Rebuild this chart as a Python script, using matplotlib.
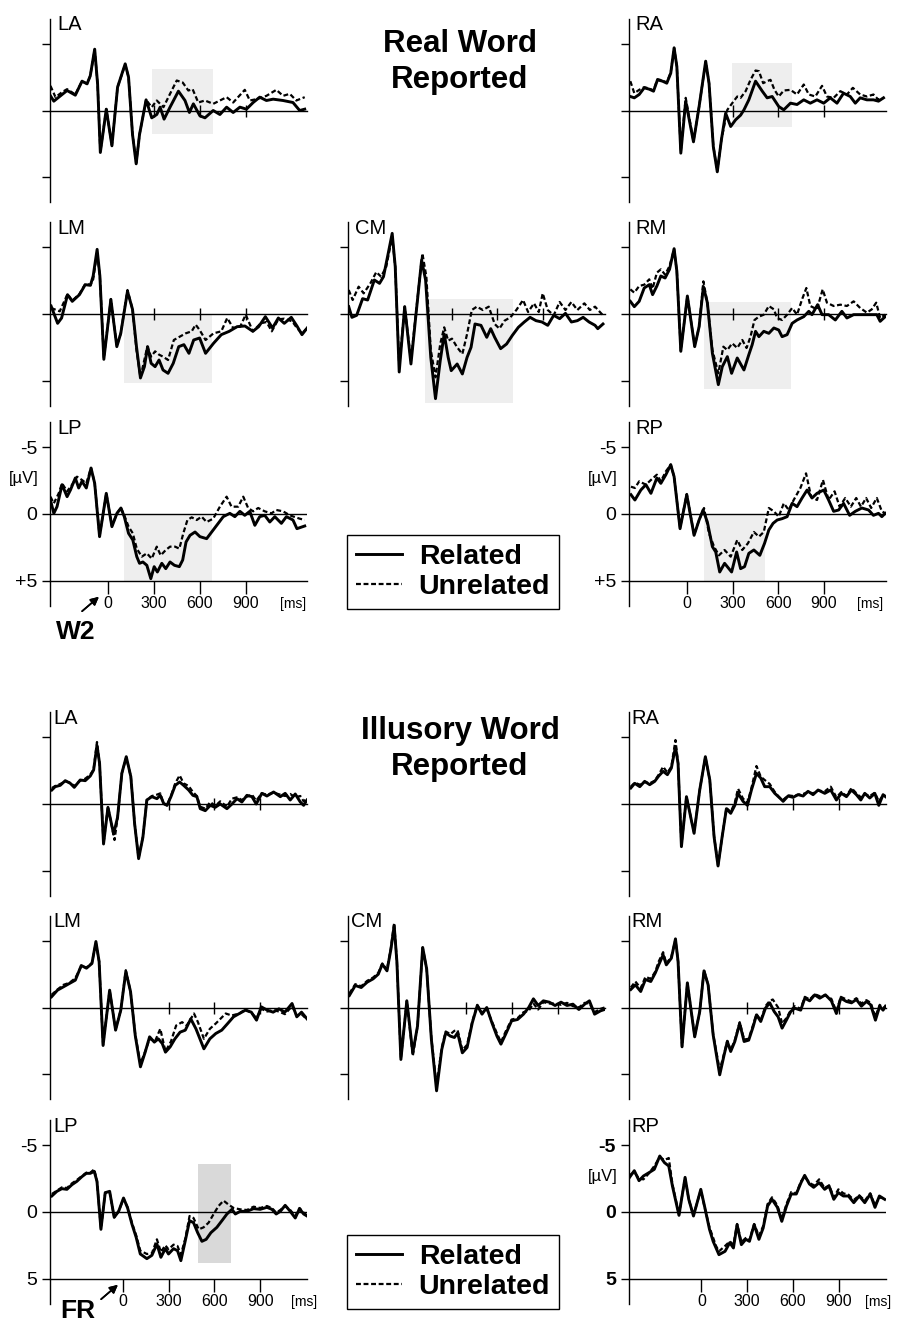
import matplotlib.pyplot as plt
from matplotlib.lines import Line2D
from matplotlib.transforms import blended_transform_factory

plt.rcParams['font.family'] = ['Liberation Sans', 'DejaVu Sans']

W, H = 899, 1323

# ---- ERP curves, (ms, µV), negative up. "Real Word Reported" ----
real_LA_rel = [(-379, -1.1), (-357, -0.7), (-270, -1.5), (-216, -1.15), (-172, -2.2), (-139, -2.0), (-118, -2.6),
               (-89, -4.6), (-70, -2.0), (-52, 3.15), (-13, -0.1), (24, 2.65), (61, -1.75), (111, -3.5), (133, -2.5),
               (159, 1.8), (183, 4.0), (205, 1.8), (248, -0.8), (285, 0.55), (318, 0.3), (340, -0.25), (366, 0.65),
               (405, -0.25), (460, -1.45), (503, -0.75), (532, 0.15), (558, -0.5), (601, 0.4), (634, 0.55), (688, 0.0),
               (732, 0.3), (776, -0.25), (819, 0.15), (863, -0.25), (906, -0.1), (950, -0.6), (993, -1.0),
               (1037, -0.75), (1081, -0.85), (1146, -0.75), (1211, -0.6), (1255, 0.0), (1288, -0.1)]
real_LA_unr = [(-379, -1.85), (-346, -1.0), (-300, -1.4), (-270, -1.6), (-216, -1.2), (-172, -2.2), (-139, -2.0),
               (-118, -2.6), (-89, -4.55), (-70, -2.0), (-52, 3.1), (-13, -0.1), (24, 2.6), (61, -1.75), (111, -3.45),
               (133, -2.5), (159, 1.75), (183, 3.95), (205, 1.8), (248, -0.8), (285, -0.25), (318, -0.75),
               (362, -0.25), (405, -1.25), (449, -2.25), (488, -2.1), (525, -1.5), (553, -1.6), (590, -0.6),
               (634, -0.75), (688, -0.5), (732, -0.75), (776, -1.0), (819, -0.6), (895, -1.55), (928, -0.75),
               (972, -0.85), (1037, -1.1), (1102, -1.55), (1146, -1.1), (1190, -1.25), (1233, -0.75), (1288, -1.0)]

real_RA_rel = [(-370, -1.05), (-344, -0.95), (-312, -1.2), (-279, -1.7), (-246, -1.6), (-218, -1.45), (-192, -2.3),
               (-159, -2.2), (-131, -2.05), (-105, -2.8), (-83, -4.7), (-65, -3.3), (-39, 3.2), (-7, -0.7), (44, 2.35),
               (81, -0.3), (124, -3.7), (146, -2.05), (174, 2.7), (200, 4.6), (227, 2.2), (255, 0.2), (288, 1.2),
               (320, 0.7), (353, 0.35), (375, -0.05), (407, -0.8), (451, -2.2), (495, -1.45), (527, -0.95),
               (560, -1.05), (603, -0.3), (636, -0.05), (680, -0.55), (723, -0.45), (767, -0.8), (810, -0.55),
               (854, -0.8), (898, -0.55), (941, -0.95), (985, -0.55), (1028, -1.3), (1072, -1.05), (1105, -0.55),
               (1137, -0.95), (1181, -0.8), (1224, -0.8), (1257, -0.7), (1290, -0.95)]
real_RA_unr = [(-370, -2.2), (-344, -1.3), (-312, -1.55), (-279, -1.75), (-246, -1.65), (-218, -1.5), (-192, -2.35),
               (-159, -2.25), (-131, -2.1), (-105, -2.85), (-83, -4.7), (-65, -3.3), (-39, 3.1), (-7, -0.95),
               (44, 2.3), (81, -0.3), (124, -3.65), (146, -2.05), (174, 2.65), (200, 4.55), (227, 2.2), (266, -0.05),
               (298, -0.55), (331, -1.05), (353, -0.95), (386, -1.45), (418, -2.3), (451, -3.0), (473, -2.95),
               (501, -2.05), (527, -2.2), (549, -2.3), (575, -1.55), (603, -1.05), (636, -1.5), (680, -1.55),
               (723, -1.2), (767, -1.95), (800, -1.2), (843, -1.05), (887, -1.85), (919, -1.05), (963, -0.95),
               (1007, -1.45), (1050, -1.2), (1089, -1.7), (1137, -1.2), (1181, -1.05), (1224, -1.2), (1257, -0.8),
               (1290, -0.95)]

real_LM_rel = [(-375, -0.6), (-332, 0.7), (-306, 0.3), (-267, -1.45), (-236, -0.95), (-189, -1.45), (-151, -2.2),
               (-117, -2.15), (-99, -2.85), (-73, -4.85), (-55, -2.85), (-29, 3.4), (17, -1.1), (56, 2.45), (82, 1.45),
               (126, -1.7), (159, -0.35), (185, 2.45), (211, 4.8), (237, 3.95), (258, 2.45), (281, 3.7), (307, 3.95),
               (333, 3.45), (359, 4.2), (392, 4.45), (426, 3.7), (462, 2.45), (496, 2.3), (529, 2.95), (560, 1.95),
               (599, 1.8), (638, 2.95), (690, 2.2), (741, 1.55), (793, 1.3), (845, 0.95), (896, 0.9), (948, 1.3),
               (986, 0.95), (1030, 0.2), (1077, 1.05), (1115, 0.3), (1154, 0.7), (1200, 0.25), (1237, 0.9),
               (1270, 1.55), (1304, 1.05)]
real_LM_unr = [(-375, -0.45), (-318, -0.2), (-267, -1.5), (-236, -1.0), (-189, -1.5), (-151, -2.25), (-117, -2.2),
               (-99, -2.6), (-73, -4.6), (-55, -2.85), (-29, 3.3), (17, -1.1), (56, 2.4), (82, 1.45), (126, -1.8),
               (159, -0.35), (185, 2.7), (211, 4.75), (256, 2.45), (281, 3.2), (307, 2.8), (333, 3.05), (359, 3.2),
               (392, 3.45), (430, 1.95), (469, 1.7), (508, 1.45), (547, 1.3), (573, 0.8), (599, 1.2), (638, 1.95),
               (690, 1.45), (741, 1.3), (780, 0.3), (819, 1.05), (865, 0.95), (901, 0.05), (948, 1.3), (999, 0.7),
               (1038, 0.6), (1072, 1.3), (1115, 0.4), (1154, 0.35), (1206, 0.55), (1237, 1.05), (1270, 1.45),
               (1304, 1.05)]

real_CM_rel = [(-374, -0.55), (-353, 0.25), (-322, 0.1), (-283, -1.15), (-250, -1.05), (-206, -2.55), (-172, -2.3),
               (-146, -2.8), (-115, -4.55), (-89, -6.05), (-69, -3.55), (-43, 4.35), (-7, -0.55), (34, 3.75),
               (65, 0.25), (104, -4.05), (130, -2.55), (164, 3.25), (195, 6.35), (226, 3.5), (252, 1.5), (278, 3.25),
               (298, 4.25), (337, 3.75), (371, 4.5), (402, 3.25), (428, 2.5), (454, 0.75), (493, 0.85), (531, 1.75),
               (557, 1.1), (583, 1.75), (622, 2.6), (661, 2.25), (699, 1.6), (738, 1.0), (777, 0.6), (815, 0.25),
               (854, 0.5), (893, 0.6), (931, 0.85), (970, 0.1), (1009, 0.35), (1047, -0.05), (1086, 0.6),
               (1125, 0.5), (1163, 0.25), (1202, 0.6), (1241, 0.85), (1259, 1.1), (1293, 0.75)]
real_CM_unr = [(-374, -1.8), (-348, -1.05), (-309, -2.05), (-276, -1.55), (-232, -2.3), (-193, -3.15), (-162, -2.8),
               (-128, -3.55), (-89, -5.8), (-69, -3.55), (-43, 3.95), (-7, -0.55), (34, 3.5), (65, 0.1),
               (109, -4.55), (135, -2.8), (164, 2.7), (195, 4.75), (226, 2.25), (252, 1.0), (278, 2.0), (303, 1.85),
               (337, 2.5), (371, 3.0), (402, 1.5), (433, -0.3), (466, -0.55), (505, -0.3), (544, -0.55), (583, 0.75),
               (614, 1.1), (648, 0.5), (686, 0.25), (725, -0.3), (769, -1.05), (802, -0.15), (841, -0.8),
               (872, -0.15), (898, -1.55), (931, -0.3), (970, 0.1), (1009, -0.9), (1047, -0.3), (1086, -0.9),
               (1125, -0.3), (1171, -0.8), (1207, -0.3), (1241, -0.55), (1293, 0.1)]

real_RM_rel = [(-370, -0.95), (-344, -0.55), (-312, -0.95), (-279, -1.95), (-246, -2.2), (-224, -1.45), (-196, -2.1),
               (-170, -2.85), (-142, -2.7), (-113, -3.35), (-83, -4.9), (-65, -3.2), (-39, 2.8), (4, -1.35),
               (52, 2.45), (81, 0.95), (109, -2.05), (135, -0.85), (168, 2.95), (207, 5.3), (233, 3.95), (266, 3.2),
               (294, 4.45), (331, 3.3), (375, 4.2), (407, 3.05), (429, 2.3), (451, 1.3), (473, 1.7), (505, 1.3),
               (538, 1.45), (571, 1.05), (603, 1.2), (625, 1.7), (658, 1.55), (691, 0.7), (723, 0.45), (767, 0.2),
               (800, -0.2), (821, 0.05), (858, -0.7), (887, 0.05), (930, 0.05), (974, 0.45), (1017, -0.2),
               (1050, 0.3), (1094, 0.05), (1137, 0.05), (1203, 0.05), (1246, 0.05), (1268, 0.55), (1301, 0.2)]
real_RM_unr = [(-370, -1.85), (-344, -1.6), (-312, -2.1), (-279, -2.2), (-246, -2.6), (-224, -1.9), (-196, -3.1),
               (-170, -3.35), (-142, -2.95), (-113, -3.6), (-83, -4.85), (-65, -3.2), (-39, 2.75), (4, -1.35),
               (52, 2.4), (81, 0.95), (109, -2.45), (135, -0.85), (168, 2.7), (207, 4.45), (240, 2.45), (266, 2.7),
               (298, 2.2), (331, 2.55), (364, 1.95), (392, 2.55), (418, 1.7), (444, 0.45), (473, 0.2), (505, 0.05),
               (538, -0.6), (571, -0.35), (592, 0.3), (625, 0.45), (658, 0.05), (691, -0.45), (723, 0.05),
               (756, -1.1), (784, -1.95), (810, -0.6), (854, -0.35), (891, -1.85), (919, -0.85), (963, -0.6),
               (1007, -0.7), (1050, -0.6), (1094, -0.95), (1137, -0.45), (1181, -0.1), (1213, -0.35), (1242, -0.85),
               (1268, 0.3), (1301, 0.05)]

real_LP_rel = [(-379, -1.05), (-357, -0.05), (-336, -0.55), (-303, -2.2), (-270, -1.3), (-248, -1.8), (-216, -2.7),
               (-194, -1.95), (-172, -2.45), (-144, -1.95), (-113, -3.45), (-89, -2.3), (-57, 1.7), (-13, -1.55),
               (24, 0.95), (57, -0.05), (83, -0.45), (105, 0.2), (133, 1.45), (161, 1.95), (187, 3.2), (205, 3.7),
               (227, 3.6), (253, 3.85), (279, 4.85), (301, 3.95), (322, 4.35), (351, 3.7), (377, 4.1), (405, 3.6),
               (434, 3.85), (466, 3.95), (488, 3.45), (510, 2.1), (536, 1.6), (569, 1.35), (601, 1.7), (645, 1.85),
               (688, 1.2), (721, 0.7), (754, 0.2), (797, -0.05), (830, 0.2), (863, -0.2), (895, 0.1), (928, -0.2),
               (961, 0.85), (993, 0.2), (1026, 0.1), (1059, 0.6), (1092, 0.2), (1135, 0.7), (1168, 0.2), (1211, 0.45),
               (1237, 1.1), (1288, 0.9)]
real_LP_unr = [(-379, -1.3), (-357, -0.8), (-325, -1.55), (-303, -2.3), (-270, -1.7), (-237, -2.2), (-205, -2.8),
               (-172, -2.55), (-144, -2.3), (-113, -3.45), (-89, -2.3), (-57, 1.65), (-13, -1.55), (24, 0.9),
               (57, -0.05), (83, -0.45), (105, 0.1), (133, 0.95), (161, 1.45), (187, 2.6), (220, 3.2), (253, 2.95),
               (285, 3.35), (318, 2.45), (344, 3.1), (377, 2.7), (405, 2.45), (438, 2.45), (466, 2.6), (492, 1.45),
               (519, 0.45), (547, 0.25), (580, 0.45), (612, 0.2), (645, 0.6), (688, 0.35), (732, -0.55), (776, -1.3),
               (808, -0.55), (852, -0.55), (885, -1.3), (917, -0.45), (950, -0.2), (983, -0.45), (1026, -0.2),
               (1070, -0.05), (1102, -0.3), (1146, -0.2), (1190, 0.1), (1255, 0.35), (1288, 0.45)]

real_RP_rel = [(-366, -1.45), (-340, -1.05), (-301, -1.8), (-268, -2.2), (-235, -1.55), (-196, -2.7), (-170, -2.3),
               (-137, -2.95), (-105, -3.7), (-83, -2.8), (-44, 1.1), (0, -1.45), (48, 1.6), (81, 0.45), (107, -0.3),
               (135, 0.6), (168, 2.45), (190, 2.85), (216, 4.35), (248, 3.7), (294, 4.35), (327, 2.85), (353, 4.1),
               (379, 3.95), (407, 2.95), (440, 2.7), (479, 3.1), (510, 2.2), (538, 1.2), (566, 0.7), (593, 0.45),
               (625, 0.35), (658, 0.2), (691, -0.8), (723, -0.55), (756, -1.2), (789, -1.8), (821, -1.2),
               (854, -1.55), (898, -1.8), (930, -1.05), (963, -0.2), (996, -0.3), (1028, -0.8), (1068, 0.1),
               (1105, -0.2), (1148, -0.45), (1192, -0.3), (1224, 0.1), (1257, -0.05), (1279, 0.2), (1301, -0.05)]
real_RP_unr = [(-366, -2.05), (-340, -1.95), (-312, -2.45), (-268, -2.2), (-235, -2.55), (-196, -2.95),
               (-170, -2.45), (-137, -3.2), (-105, -3.7), (-83, -2.8), (-44, 1.05), (0, -1.5), (48, 1.55), (81, 0.45),
               (113, -0.45), (146, 1.45), (179, 2.45), (211, 3.1), (248, 2.7), (288, 3.2), (331, 1.95), (364, 2.7),
               (401, 2.2), (440, 1.35), (473, 1.7), (505, 1.35), (538, -0.45), (571, -0.2), (603, 0.2), (636, -0.8),
               (669, -0.3), (701, -1.05), (745, -1.95), (782, -3.05), (815, -1.3), (854, -1.05), (893, -2.55),
               (930, -1.05), (969, -1.7), (1002, -0.55), (1039, -1.2), (1076, -0.55), (1111, -1.2), (1142, -0.55),
               (1176, -1.2), (1209, -0.45), (1246, -1.2), (1279, -0.2), (1301, -0.05)]

# ---- "Illusory Word Reported" ----
ill_LA_rel = [(-466, -1.05), (-444, -1.3), (-411, -1.4), (-378, -1.75), (-345, -1.55), (-319, -1.25), (-280, -1.8),
              (-247, -1.75), (-214, -2.1), (-192, -2.55), (-170, -4.4), (-153, -3.05), (-127, 3.0), (-98, 0.25),
              (-61, 2.25), (-35, 1.0), (-7, -2.3), (22, -3.55), (52, -2.05), (77, 1.5), (103, 4.1), (131, 2.5),
              (157, -0.3), (190, -0.55), (223, -0.4), (245, -0.65), (267, -0.05), (289, 0.1), (315, -0.55),
              (343, -1.4), (372, -1.65), (398, -1.4), (431, -1.05), (459, -0.65), (485, -0.55), (507, 0.35),
              (540, 0.5), (573, 0.1), (605, 0.25), (638, 0.0), (682, 0.35), (715, 0.0), (748, -0.4), (780, -0.15),
              (813, -0.65), (846, -0.55), (874, 0.0), (911, -0.8), (944, -0.6), (988, -0.9), (1032, -0.55),
              (1064, -0.8), (1097, -0.3), (1130, -0.75), (1163, -0.15), (1185, 0.1), (1207, -0.3)]
ill_LA_unr = [(-466, -1.2), (-444, -1.35), (-411, -1.5), (-378, -1.7), (-345, -1.6), (-319, -1.35), (-280, -1.75),
              (-247, -1.9), (-214, -2.2), (-192, -2.6), (-170, -4.65), (-153, -3.05), (-127, 2.95), (-98, 0.2),
              (-55, 2.7), (-35, 1.05), (-7, -2.3), (22, -3.5), (52, -2.05), (77, 1.45), (103, 4.05), (131, 2.45),
              (157, -0.3), (190, -0.6), (223, -0.7), (245, -0.8), (267, 0.0), (289, 0.1), (315, -0.6), (343, -1.55),
              (372, -2.15), (398, -1.55), (431, -1.35), (459, -0.9), (485, -0.6), (507, 0.2), (540, 0.35),
              (573, -0.15), (605, 0.15), (638, -0.2), (682, 0.2), (715, -0.4), (748, -0.5), (780, -0.3),
              (813, -0.55), (846, -0.7), (874, -0.25), (911, -0.8), (944, -0.7), (988, -0.85), (1032, -0.7),
              (1064, -0.6), (1097, -0.75), (1130, -0.5), (1163, -0.6), (1185, -0.2), (1207, -0.4)]

ill_RA_rel = [(-463, -1.2), (-437, -1.55), (-404, -1.3), (-372, -1.7), (-339, -1.45), (-306, -1.7), (-280, -2.1),
              (-251, -2.45), (-223, -2.2), (-197, -2.7), (-170, -4.3), (-153, -3.05), (-131, 3.2), (-98, -0.55),
              (-48, 2.2), (-11, -1.05), (26, -3.55), (55, -1.8), (83, 2.45), (109, 4.65), (136, 2.45), (164, 0.35),
              (192, 0.7), (219, 0.1), (240, -0.8), (273, -0.2), (302, 0.1), (328, -1.05), (361, -2.3), (389, -1.95),
              (415, -1.3), (448, -1.3), (481, -0.8), (514, -0.45), (536, -0.2), (568, -0.6), (601, -0.5),
              (634, -0.7), (667, -0.6), (699, -0.95), (732, -0.7), (765, -1.05), (809, -0.8), (848, -1.05),
              (885, -0.3), (918, -0.8), (951, -0.55), (984, -1.05), (1016, -0.7), (1045, -0.3), (1071, -0.8),
              (1104, -0.45), (1137, -0.8), (1163, 0.1), (1191, -0.7), (1207, -0.55)]
ill_RA_unr = [(-463, -1.3), (-437, -1.6), (-404, -1.45), (-372, -1.65), (-339, -1.55), (-306, -1.75), (-280, -2.2),
              (-251, -2.8), (-223, -2.35), (-197, -2.8), (-170, -4.8), (-153, -3.05), (-131, 3.1), (-98, -0.55),
              (-48, 2.15), (-11, -1.05), (26, -3.55), (55, -1.8), (83, 2.4), (109, 4.6), (136, 2.45), (164, 0.3),
              (192, 0.6), (219, -0.1), (240, -1.15), (273, -0.4), (302, -0.1), (328, -1.2), (361, -2.85),
              (389, -2.05), (415, -1.8), (448, -1.5), (481, -0.9), (514, -0.45), (536, -0.3), (568, -0.65),
              (601, -0.6), (634, -0.7), (667, -0.75), (699, -0.9), (732, -0.8), (765, -1.0), (809, -0.95),
              (848, -1.3), (885, -0.5), (918, -0.9), (951, -0.6), (984, -1.2), (1016, -0.8), (1045, -0.5),
              (1071, -0.75), (1104, -0.6), (1137, -0.85), (1163, -0.2), (1191, -0.65), (1207, -0.6)]

ill_LM_rel = [(-468, -0.8), (-429, -1.3), (-390, -1.55), (-351, -1.8), (-312, -2.05), (-273, -3.15), (-239, -2.95),
              (-203, -3.3), (-177, -4.95), (-156, -3.45), (-130, 2.85), (-87, -1.3), (-48, 1.7), (-14, 0.2),
              (19, -2.7), (50, -1.2), (81, 2.1), (115, 4.45), (146, 3.35), (175, 2.2), (206, 2.6), (232, 2.35),
              (258, 2.7), (279, 3.35), (310, 2.95), (341, 2.35), (375, 1.85), (409, 1.7), (445, 0.85), (479, 1.6),
              (531, 3.1), (570, 2.35), (609, 1.95), (648, 1.7), (687, 1.2), (725, 0.7), (764, 0.45), (803, 0.2),
              (842, 0.35), (876, 0.95), (907, -0.05), (946, 0.2), (985, 0.35), (1023, 0.1), (1062, 0.35),
              (1109, -0.3), (1140, 0.7), (1171, 0.35), (1207, 0.85)]
ill_LM_unr = [(-468, -0.95), (-429, -1.35), (-390, -1.7), (-351, -1.85), (-312, -2.2), (-273, -3.1), (-239, -3.0),
              (-203, -3.35), (-177, -4.85), (-156, -3.45), (-130, 2.8), (-87, -1.3), (-48, 1.65), (-14, 0.2),
              (19, -2.8), (50, -1.2), (81, 2.05), (115, 4.2), (146, 3.3), (175, 2.35), (210, 2.55), (245, 1.6),
              (279, 3.3), (315, 2.55), (349, 1.35), (388, 1.1), (419, 1.35), (466, 0.45), (492, 1.1), (531, 2.35),
              (570, 1.6), (609, 1.2), (674, 0.45), (713, 0.6), (764, 0.45), (803, 0.15), (842, 0.4), (876, 0.8),
              (907, 0.1), (946, 0.3), (985, 0.2), (1023, 0.3), (1062, 0.5), (1109, -0.1), (1140, 0.6),
              (1171, 0.5), (1207, 0.9)]

ill_CM_rel = [(-466, -0.9), (-427, -1.65), (-388, -1.5), (-349, -1.9), (-310, -2.15), (-276, -2.5), (-250, -3.25),
              (-219, -2.75), (-193, -4.4), (-172, -6.15), (-154, -3.4), (-128, 3.9), (-89, -0.5), (-50, 3.4),
              (-19, 1.4), (15, -4.5), (41, -2.9), (72, 2.4), (106, 6.25), (140, 3.15), (166, 1.9), (197, 2.15),
              (223, 2.25), (244, 1.9), (275, 3.4), (306, 3.0), (340, 1.15), (373, -0.15), (404, 0.5), (435, 0.0),
              (469, 1.15), (502, 2.15), (528, 2.75), (559, 2.0), (598, 1.0), (637, 0.9), (676, 0.5), (710, 0.0),
              (741, -0.65), (772, -0.15), (806, -0.5), (845, -0.4), (883, -0.15), (922, -0.4), (961, -0.15),
              (1000, -0.25), (1039, 0.15), (1077, -0.25), (1108, -0.5), (1142, 0.5), (1181, 0.25), (1207, 0.15)]
ill_CM_unr = [(-466, -1.05), (-427, -1.75), (-388, -1.6), (-349, -2.0), (-310, -2.25), (-276, -2.6), (-250, -3.3),
              (-219, -2.85), (-193, -4.5), (-172, -6.35), (-154, -3.4), (-128, 3.85), (-89, -0.5), (-50, 3.65),
              (-19, 1.4), (15, -4.5), (41, -2.9), (72, 2.3), (106, 5.9), (140, 3.0), (166, 1.8), (197, 2.0),
              (223, 1.75), (244, 1.7), (275, 3.2), (306, 2.8), (340, 1.05), (373, -0.2), (404, 0.4), (435, 0.1),
              (469, 1.05), (502, 1.95), (528, 2.6), (559, 1.8), (598, 0.9), (637, 0.8), (676, 0.35), (710, 0.25),
              (741, -0.3), (772, 0.15), (806, -0.4), (845, -0.3), (883, -0.3), (922, -0.2), (961, -0.35),
              (1000, -0.1), (1039, 0.0), (1077, -0.35), (1108, -0.3), (1142, 0.35), (1181, 0.1), (1207, 0.0)]

ill_RM_rel = [(-463, -1.35), (-433, -1.7), (-398, -1.2), (-367, -2.1), (-332, -1.95), (-302, -2.6), (-280, -3.2),
              (-251, -3.95), (-230, -3.2), (-197, -3.7), (-170, -5.15), (-153, -3.45), (-127, 2.95), (-92, -1.85),
              (-44, 2.2), (-11, 0.3), (17, -2.75), (44, -1.7), (77, 2.05), (120, 5.05), (149, 3.55), (170, 2.55),
              (192, 3.3), (219, 2.55), (251, 1.2), (280, 2.55), (310, 2.45), (339, 1.45), (361, 0.55), (389, 1.05),
              (420, 0.05), (448, -0.35), (477, 0.3), (503, 0.7), (529, 1.55), (557, 0.95), (586, 0.3), (612, 0.05),
              (651, 0.2), (678, -0.7), (710, -0.5), (743, -0.95), (776, -0.7), (813, -0.95), (852, -0.5),
              (885, 0.45), (914, -0.7), (951, -0.45), (984, -0.35), (1016, -0.6), (1049, -0.1), (1082, -0.45),
              (1110, -0.2), (1141, 0.95), (1169, -0.1), (1191, 0.2), (1207, -0.1)]
ill_RM_unr = [(-463, -1.5), (-433, -1.95), (-398, -1.45), (-367, -2.3), (-332, -2.15), (-302, -2.7), (-280, -3.45),
              (-251, -4.15), (-230, -3.3), (-197, -3.8), (-170, -5.1), (-153, -3.45), (-127, 2.9), (-92, -1.85),
              (-44, 2.15), (-11, 0.3), (17, -2.8), (44, -1.7), (77, 2.0), (120, 4.7), (149, 3.45), (170, 2.5),
              (192, 3.2), (219, 2.45), (251, 1.1), (280, 2.4), (310, 2.35), (339, 1.3), (361, 0.5), (389, 0.95),
              (420, -0.1), (448, -0.5), (468, -0.6), (503, 0.0), (529, 1.2), (557, 0.8), (586, 0.2), (612, -0.1),
              (651, 0.1), (678, -0.8), (710, -0.6), (743, -1.0), (776, -0.85), (813, -0.9), (852, -0.65),
              (885, 0.3), (914, -0.8), (951, -0.6), (984, -0.45), (1016, -0.7), (1049, -0.3), (1082, -0.55),
              (1110, -0.35), (1141, 0.7), (1169, -0.2), (1191, 0.05), (1207, -0.1)]

ill_LP_rel = [(-466, -1.2), (-433, -1.55), (-400, -1.75), (-367, -1.7), (-334, -2.05), (-302, -2.3), (-269, -2.65),
              (-240, -2.9), (-214, -2.9), (-188, -3.05), (-170, -2.3), (-144, 1.3), (-116, -1.45), (-87, -1.55),
              (-57, 0.4), (-28, -0.05), (4, -1.05), (31, -0.3), (59, 0.9), (87, 1.9), (114, 3.15), (157, 3.5),
              (190, 3.25), (223, 2.4), (249, 3.4), (278, 2.75), (299, 3.15), (332, 2.75), (358, 2.9), (380, 3.65),
              (409, 2.15), (437, 0.65), (463, 0.8), (490, 1.55), (518, 2.2), (546, 2.05), (577, 1.55), (616, 1.15),
              (656, 0.55), (682, 0.15), (715, -0.2), (737, 0.15), (769, -0.05), (813, -0.05), (857, -0.25),
              (900, -0.2), (944, -0.35), (977, -0.2), (1005, 0.15), (1032, -0.05), (1064, -0.5), (1097, -0.05),
              (1130, 0.45), (1158, -0.25), (1185, 0.15), (1207, 0.3)]
ill_LP_unr = [(-466, -1.35), (-433, -1.6), (-400, -1.85), (-367, -1.8), (-334, -2.15), (-302, -2.4), (-269, -2.7),
              (-240, -2.95), (-214, -2.95), (-188, -3.2), (-170, -2.3), (-144, 1.25), (-116, -1.45), (-87, -1.5),
              (-57, 0.4), (-28, -0.05), (4, -1.0), (31, -0.35), (59, 0.8), (87, 1.75), (114, 2.9), (157, 3.15),
              (190, 3.1), (223, 2.05), (249, 3.0), (278, 2.5), (299, 2.8), (332, 2.45), (358, 2.55), (380, 3.2),
              (409, 2.0), (437, 0.3), (463, 0.45), (497, 1.3), (529, 1.15), (562, 0.8), (595, 0.15), (627, -0.45),
              (660, -0.85), (693, -0.55), (726, -0.3), (769, -0.2), (813, -0.15), (857, -0.4), (900, -0.3),
              (944, -0.45), (977, -0.3), (1005, 0.05), (1032, -0.15), (1064, -0.45), (1097, -0.15), (1130, 0.3),
              (1158, -0.3), (1185, 0.05), (1207, 0.25)]

ill_RP_rel = [(-471, -2.6), (-440, -3.1), (-409, -2.35), (-380, -2.7), (-344, -2.95), (-309, -3.2), (-273, -4.2),
              (-242, -3.7), (-214, -3.45), (-190, -1.95), (-147, 0.25), (-107, -2.6), (-83, -0.95), (-52, 0.3),
              (-4, -1.7), (25, -0.2), (53, 1.3), (77, 2.2), (115, 3.2), (155, 2.95), (186, 2.3), (210, 2.7),
              (234, 0.95), (262, 2.45), (291, 2.05), (315, 2.2), (346, 0.95), (377, 2.05), (405, 1.2), (434, -0.45),
              (463, -0.95), (498, -0.35), (527, 0.7), (558, -0.45), (589, -1.35), (622, -1.35), (653, -2.2),
              (677, -2.75), (708, -2.1), (736, -1.85), (772, -2.2), (808, -1.7), (837, -1.95), (868, -0.95),
              (898, -1.45), (931, -1.2), (964, -1.2), (999, -0.7), (1035, -1.2), (1071, -0.7), (1107, -1.35),
              (1138, -0.35), (1167, -1.2), (1202, -0.95)]
ill_RP_unr = [(-471, -2.75), (-440, -3.0), (-409, -2.5), (-380, -2.45), (-344, -2.9), (-309, -3.45), (-273, -4.1),
              (-242, -3.9), (-214, -4.05), (-190, -2.1), (-147, 0.2), (-107, -2.55), (-83, -0.95), (-52, 0.25),
              (-4, -1.65), (25, -0.15), (53, 1.15), (96, 2.55), (115, 2.95), (155, 2.55), (186, 2.2), (210, 2.45),
              (234, 0.9), (262, 2.25), (291, 1.95), (315, 2.1), (346, 0.9), (377, 1.8), (405, 1.05), (434, -0.6),
              (463, -1.1), (498, -0.5), (527, 0.55), (558, -0.6), (589, -1.5), (622, -1.4), (653, -2.3),
              (677, -2.65), (708, -2.2), (736, -2.0), (772, -2.45), (808, -1.8), (837, -2.0), (868, -1.1),
              (898, -1.7), (931, -1.4), (964, -1.3), (999, -0.9), (1035, -1.25), (1071, -0.85), (1107, -1.4),
              (1138, -0.5), (1167, -1.1), (1202, -1.0)]

# analysis windows: (start ms, end ms, upper µV, lower µV)
real_windows = {'LA': (290, 685, -3.1, 1.8), 'RA': (298, 691, -3.6, 1.25), 'LM': (106, 677, 0.0, 5.15),
                'CM': (123, 701, -1.1, 6.7), 'RM': (113, 684, -0.9, 5.65), 'LP': (105, 680, 0.0, 5.0),
                'RP': (113, 510, 0.0, 5.0)}
ill_windows = {'LP': (490, 708, -3.6, 3.85)}

x_ticks = [0, 300, 600, 900]

# ---- layout (pixels) ----
COL_X = {'L': 50, 'C': 347.5, 'R': 628.5}
ROW_Y = {'real': {'A': 110.5, 'M': 314, 'P': 514}, 'ill': {'A': 804, 'M': 1007.5, 'P': 1212}}
XLIM = {'real': (-382, 1303), 'ill': (-478, 1207)}
AX_W = 257
PX_UV = 13.33
YL = 6.9
SOLID_LW = 2.1
DASH_LW = 1.6
DASH = (0, (2.2, 1.2))

fig = plt.figure(figsize=(W / 100, H / 100), dpi=100)


def make_axes(x_spine, y_zero, xlim):
    top = y_zero - YL * PX_UV
    h = 2 * YL * PX_UV
    ax = fig.add_axes([x_spine / W, 1 - (top + h) / H, AX_W / W, h / H])
    ax.set_xlim(*xlim)
    ax.set_ylim(YL, -YL)
    ax.patch.set_visible(False)
    for s in ['top', 'right']:
        ax.spines[s].set_visible(False)
    ax.spines['left'].set_linewidth(1.0)
    ax.spines['bottom'].set_linewidth(1.0)
    return ax


def draw_panel(half, name, rel, unr, window, shade):
    col, row = name[0], name[1]
    ax = make_axes(COL_X[col], ROW_Y[half][row], XLIM[half])
    if window:
        t0, t1, v0, v1 = window
        ax.fill_between([t0, t1], [v0, v0], [v1, v1], color=shade, lw=0, zorder=0)
    t, v = zip(*rel)
    ax.plot(t, v, color='k', lw=SOLID_LW, zorder=3)
    t, v = zip(*unr)
    ax.plot(t, v, color='k', lw=DASH_LW, ls=DASH, zorder=3)
    tr = blended_transform_factory(ax.transAxes, ax.transData)
    dx = 7 if half == 'real' else 3
    ax.text(dx / AX_W, -6.45, name, transform=tr, fontsize=14.5, ha='left', va='center')
    ax.set_yticks([-5, 0, 5])
    ax.tick_params(axis='y', direction='out', length=6, width=1.0)
    if row == 'P':
        ax.axhline(0, color='k', lw=1.0, zorder=2)
        ax.spines['bottom'].set_position(('data', 5))
        ax.set_xticks(x_ticks)
        ax.tick_params(axis='x', direction='out', length=9, width=1.0, pad=2, labelsize=11.5)
        plus = '+5' if half == 'real' else '5'
        ax.set_yticklabels(['-5', '0', plus])
        bold = 'bold' if (half == 'ill' and col == 'R') else 'normal'
        ax.tick_params(axis='y', labelsize=14, pad=3)
        for lab in ax.get_yticklabels():
            lab.set_fontweight(bold)
        ms_x = {('real', 'L'): 0.945, ('real', 'R'): 0.94, ('ill', 'L'): 0.99, ('ill', 'R'): 0.97}[(half, col)]
        ax.annotate('[ms]', xy=(ms_x, 5), xycoords=tr, xytext=(0, -17), textcoords='offset points',
                    ha='center', va='center', fontsize=10)
        if not (half == 'ill' and col == 'L'):
            ax.text(-26 / AX_W, -2.7, '[µV]', transform=tr, fontsize=12, ha='center', va='center')
    else:
        ax.spines['bottom'].set_position(('data', 0))
        ax.set_xticks([300, 600, 900])
        ax.set_xticklabels([])
        ax.tick_params(axis='x', direction='inout', length=8, width=1.0)
        ax.set_yticklabels([])
    return ax


real_curves = {'LA': (real_LA_rel, real_LA_unr), 'RA': (real_RA_rel, real_RA_unr),
               'LM': (real_LM_rel, real_LM_unr), 'CM': (real_CM_rel, real_CM_unr),
               'RM': (real_RM_rel, real_RM_unr), 'LP': (real_LP_rel, real_LP_unr),
               'RP': (real_RP_rel, real_RP_unr)}
ill_curves = {'LA': (ill_LA_rel, ill_LA_unr), 'RA': (ill_RA_rel, ill_RA_unr),
              'LM': (ill_LM_rel, ill_LM_unr), 'CM': (ill_CM_rel, ill_CM_unr),
              'RM': (ill_RM_rel, ill_RM_unr), 'LP': (ill_LP_rel, ill_LP_unr),
              'RP': (ill_RP_rel, ill_RP_unr)}

for name, (rel, unr) in real_curves.items():
    draw_panel('real', name, rel, unr, real_windows.get(name), '#eeeeee')
for name, (rel, unr) in ill_curves.items():
    draw_panel('ill', name, rel, unr, ill_windows.get(name), '#d9d9d9')

# titles
fig.text(460 / W, 1 - 62 / H, 'Real Word\nReported', ha='center', va='center',
         fontsize=22.5, fontweight='bold', linespacing=1.22)
fig.text(460 / W, 1 - 749 / H, 'Illusory Word\nReported', ha='center', va='center',
         fontsize=22.5, fontweight='bold', linespacing=1.22)

# legends
handles = [Line2D([], [], color='k', lw=SOLID_LW), Line2D([], [], color='k', lw=DASH_LW, ls=DASH)]
for y_top in (535, 1235):
    leg = fig.legend(handles, ['Related', 'Unrelated'], loc='upper left',
                     bbox_to_anchor=(347 / W, 1 - y_top / H), bbox_transform=fig.transFigure,
                     prop={'weight': 'bold', 'size': 20.5}, frameon=True, fancybox=False,
                     edgecolor='k', framealpha=1, handlelength=1.6, handletextpad=0.6,
                     labelspacing=0.15, borderpad=0.32, borderaxespad=0)
    leg.get_frame().set_linewidth(1.0)

# event markers
fig.text(76 / W, 1 - 632 / H, 'W2', ha='center', va='center', fontsize=19, fontweight='bold')
fig.add_artist(plt.annotate('', xy=(101, H - 595), xycoords='figure pixels', xytext=(80, H - 613),
                            textcoords='figure pixels',
                            arrowprops=dict(arrowstyle='-|>', color='k', lw=1.2, mutation_scale=12)))
fig.text(78 / W, 1 - 1311 / H, 'FR', ha='center', va='center', fontsize=19, fontweight='bold')
fig.add_artist(plt.annotate('', xy=(120, H - 1283), xycoords='figure pixels', xytext=(99, H - 1301),
                            textcoords='figure pixels',
                            arrowprops=dict(arrowstyle='-|>', color='k', lw=1.2, mutation_scale=12)))

fig.savefig('out.png', dpi=100)
